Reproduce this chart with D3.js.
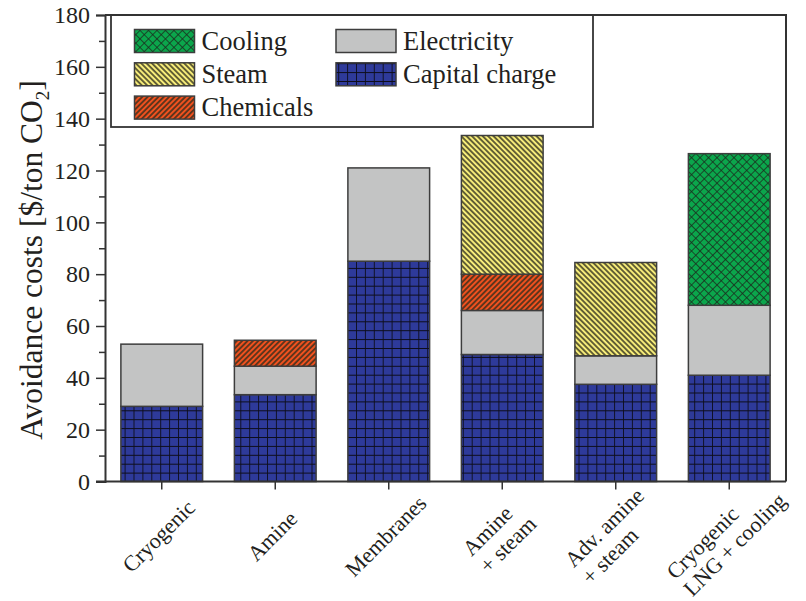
<!DOCTYPE html>
<html>
<head>
<meta charset="utf-8">
<script src="https://cdn.jsdelivr.net/npm/d3@7"></script>
<style>
  body { margin: 0; background: #fff; }
  svg { display: block; }
  text { font-family: "Liberation Serif", "DejaVu Serif", serif; fill: #231f20; }
</style>
</head>
<body>
<svg id="chart" width="806" height="601"></svg>
<script>
// Avoidance cost breakdown per capture technology ($/ton CO2)
const categories = [
  ["Cryogenic"],
  ["Amine"],
  ["Membranes"],
  ["Amine", "+ steam"],
  ["Adv. amine", "+ steam"],
  ["Cryogenic", "LNG + cooling"]
];
const capitalCharge = [29, 33.5, 85, 49, 37.5, 41];
const electricity   = [24, 11, 36, 17, 11, 27];
const chemicals     = [0, 10, 0, 14, 0, 0];
const steam         = [0, 0, 0, 53.5, 36, 0];
const cooling       = [0, 0, 0, 0, 0, 58.5];
const yTicks = [0, 20, 40, 60, 80, 100, 120, 140, 160, 180];
const yMinorTicks = [10, 30, 50, 70, 90, 110, 130, 150, 170];

const seriesKeys = ["capital", "electricity", "chemicals", "steam", "cooling"];
const legendItems = [
  { key: "cooling", label: "Cooling", col: 0, row: 0 },
  { key: "steam", label: "Steam", col: 0, row: 1 },
  { key: "chemicals", label: "Chemicals", col: 0, row: 2 },
  { key: "electricity", label: "Electricity", col: 1, row: 0 },
  { key: "capital", label: "Capital charge", col: 1, row: 1 }
];

const rows = categories.map((c, i) => ({
  idx: i,
  capital: capitalCharge[i],
  electricity: electricity[i],
  chemicals: chemicals[i],
  steam: steam[i],
  cooling: cooling[i]
}));

const svg = d3.select("#chart");
const plot = { left: 105, right: 786, top: 15, bottom: 481.5 };

const x = d3.scaleBand()
  .domain(d3.range(categories.length))
  .range([plot.left, plot.right])
  .paddingInner(0.28)
  .paddingOuter(0.14);

const y = d3.scaleLinear().domain([0, 180]).range([plot.bottom, plot.top]);

// ---- fill patterns ----
const defs = svg.append("defs");

// capital charge: blue with black square grid
const grid = defs.append("pattern").attr("id", "pat-capital")
  .attr("patternUnits", "userSpaceOnUse").attr("width", 8.9).attr("height", 8.9)
  .attr("x", 0).attr("y", plot.bottom);
grid.append("rect").attr("width", 8.9).attr("height", 8.9).attr("fill", "#2e3a9a");
grid.append("path").attr("d", "M0,0H8.9M0,0V8.9").attr("stroke", "#0d0d1a").attr("stroke-width", 1.8);

function hatch(id, color, angle, period, width) {
  const p = defs.append("pattern").attr("id", id)
    .attr("patternUnits", "userSpaceOnUse").attr("width", period).attr("height", period)
    .attr("patternTransform", `rotate(${angle})`);
  p.append("rect").attr("width", period).attr("height", period).attr("fill", color);
  p.append("line").attr("x1", period / 2).attr("x2", period / 2).attr("y1", 0).attr("y2", period)
    .attr("stroke", "#2a2a1a").attr("stroke-width", width);
  return p;
}
hatch("pat-steam", "#f7ed7a", -45, 3.8, 1.4);
hatch("pat-chemicals", "#f0511f", 45, 3.8, 1.4);

// cooling: green diagonal crosshatch
const cross = defs.append("pattern").attr("id", "pat-cooling")
  .attr("patternUnits", "userSpaceOnUse").attr("width", 6).attr("height", 6)
  .attr("patternTransform", "rotate(45)");
cross.append("rect").attr("width", 6).attr("height", 6).attr("fill", "#0ba64c");
cross.append("path").attr("d", "M0,0H6M0,0V6").attr("stroke", "#1b2a1d").attr("stroke-width", 1.5);

const fills = {
  capital: "url(#pat-capital)",
  electricity: "#c3c4c4",
  chemicals: "url(#pat-chemicals)",
  steam: "url(#pat-steam)",
  cooling: "url(#pat-cooling)"
};

// ---- stacked bars ----
const stacked = d3.stack().keys(seriesKeys)(rows);
const barLayer = svg.append("g");
stacked.forEach(series => {
  barLayer.append("g").selectAll("rect")
    .data(series.filter(d => d[1] - d[0] > 0))
    .join("rect")
    .attr("x", d => x(d.data.idx))
    .attr("width", x.bandwidth())
    .attr("y", d => y(d[1]))
    .attr("height", d => y(d[0]) - y(d[1]))
    .attr("fill", fills[series.key])
    .attr("stroke", "#3d3d3d")
    .attr("stroke-width", 1.5);
});

// ---- frame ----
svg.append("path")
  .attr("d", `M${plot.left},${plot.top}H${plot.right}V${plot.bottom}`)
  .attr("fill", "none").attr("stroke", "#333").attr("stroke-width", 2);

// ---- y axis ----
const yAxis = svg.append("g").attr("transform", `translate(${plot.left},0)`)
  .call(d3.axisLeft(y).tickValues(yTicks).tickSize(9).tickPadding(6).tickFormat(d3.format("d")));
yAxis.select(".domain").attr("stroke", "#333").attr("stroke-width", 2);
yAxis.selectAll(".tick line").attr("stroke", "#333").attr("stroke-width", 1.5);
yAxis.selectAll(".tick text").style("font-size", "24px").attr("fill", "#231f20");
const yMinor = svg.append("g").attr("transform", `translate(${plot.left},0)`)
  .call(d3.axisLeft(y).tickValues(yMinorTicks).tickSize(6).tickFormat(""));
yMinor.select(".domain").remove();
yMinor.selectAll(".tick line").attr("stroke", "#333").attr("stroke-width", 1.5);

// ---- x axis ----
const xAxis = svg.append("g").attr("transform", `translate(0,${plot.bottom})`)
  .call(d3.axisBottom(x).tickSize(8).tickFormat(""));
xAxis.select(".domain").attr("stroke", "#333").attr("stroke-width", 2)
  .attr("d", `M${plot.left - 9},0H${plot.right}`);
xAxis.selectAll(".tick line").attr("stroke", "#333").attr("stroke-width", 1.5);

// rotated category labels: left-justified lines; each rotated block is
// centred on a point just below and left of its tick
const xLabels = svg.append("g");
const xFont = 22, xLine = 24;
categories.forEach((lines, i) => {
  const cx = x(i) + x.bandwidth() / 2;
  const g = xLabels.append("g").attr("transform", "rotate(-45)");
  lines.forEach((ln, k) => {
    g.append("text").attr("x", 0).attr("y", k * xLine)
      .style("font-size", xFont + "px").text(ln);
  });
  const r = g.node().getBoundingClientRect();
  const dx = (cx - 3) - (r.left + r.right) / 2;
  const dy = 536 - (r.top + r.bottom) / 2;
  g.attr("transform", `translate(${dx},${dy}) rotate(-45)`);
});

// ---- y label ----
const yl = svg.append("text")
  .attr("transform", `translate(42,260) rotate(-90)`)
  .attr("text-anchor", "middle")
  .style("font-size", "31.5px");
yl.append("tspan").text("Avoidance costs [$/ton CO");
yl.append("tspan").style("font-size", "19px").attr("dy", 7).text("2");
yl.append("tspan").attr("dy", -7).text("]");

// ---- legend ----
const legend = svg.append("g");
legend.append("rect")
  .attr("x", 111).attr("y", plot.top).attr("width", 482).attr("height", 112)
  .attr("fill", "#fff").attr("stroke", "#333").attr("stroke-width", 1.8);
const colX = [134.5, 336];
legendItems.forEach(it => {
  const gx = colX[it.col], gy = 29.5 + it.row * 33.3;
  legend.append("rect")
    .attr("x", gx).attr("y", gy).attr("width", 60).attr("height", 23)
    .attr("fill", fills[it.key]).attr("stroke", "#3d3d3d").attr("stroke-width", 1.5);
  legend.append("text")
    .attr("x", gx + 67).attr("y", gy + 20)
    .style("font-size", "26.5px")
    .text(it.label);
});
// top frame segment drawn over the legend box
svg.append("line").attr("x1", plot.left).attr("x2", plot.right).attr("y1", plot.top).attr("y2", plot.top)
  .attr("stroke", "#333").attr("stroke-width", 2);
</script>
</body>
</html>
